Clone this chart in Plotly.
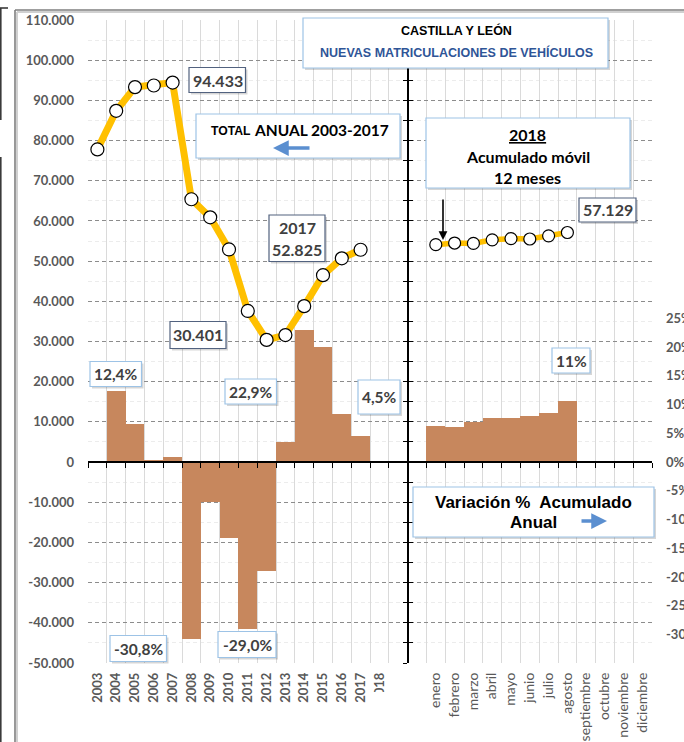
import plotly.graph_objects as go

# ---------------- data ----------------
years = [str(y) for y in range(2003, 2019)]
blanks = [" ", "  "]
months = ["enero", "febrero", "marzo", "abril", "mayo", "junio", "julio",
          "agosto", "septiembre", "octubre", "noviembre", "diciembre"]
categories = years + blanks + months

total_years = years[:15]
total_annual = [77800, 87400, 93300, 93700, 94433, 65400, 60900, 52900,
                37600, 30401, 31600, 38800, 46500, 50700, 52825]

pct_years = years[1:15]
pct_annual = [12.4, 6.7, 0.3, 0.8, -30.8, -7.0, -13.2, -29.0, -19.0,
              3.5, 22.9, 20.1, 8.4, 4.5]

mov_months = months[:8]
total_moving = [54100, 54500, 54400, 55300, 55600, 55500, 56300, 57129]
pct_moving = [6.3, 6.1, 7.0, 7.7, 7.7, 8.0, 8.6, 10.6]

units_ticks = list(range(-50000, 110001, 10000))
pct_ticks = list(range(-35, 26, 5))
units_range = [-50000, 110000]
units_per_pct = 1430.0
pct_range = [units_range[0] / units_per_pct, units_range[1] / units_per_pct]


def fmt_units(v):
    return f"{v:,}".replace(",", ".")


def fmt_pct1(v):
    return f"{v:.1f}".replace(".", ",") + "%"


# ---------------- styles ----------------
BAR = "rgb(199,135,93)"
GOLD = "#FFC000"
GRAY_TXT = "#595959"
DARK_TXT = "#404040"
LIGHT_BORDER = "#9DC3E6"
DARK_BORDER = "#52627F"

L, T, W, H = 88, 20, 564, 643


def px(x):
    return (x - L) / W


def py(y):
    return (T + H - y) / H


shapes = []
annotations = []


def box(x0, y0, x1, y1, border):
    shapes.append(dict(type="rect", xref="paper", yref="paper",
                       x0=px(x0 + 2), x1=px(x1 + 2), y0=py(y1 + 2), y1=py(y0 + 2),
                       fillcolor="rgba(0,0,0,0.16)", line=dict(width=0), layer="above"))
    shapes.append(dict(type="rect", xref="paper", yref="paper",
                       x0=px(x0), x1=px(x1), y0=py(y1), y1=py(y0),
                       fillcolor="white", line=dict(color=border, width=1.2), layer="above"))


def text(x, y, t, size, color, family="Lato", bold=True, xanchor="center"):
    annotations.append(dict(xref="paper", yref="paper", x=px(x), y=py(y),
                            xanchor=xanchor, yanchor="middle", showarrow=False,
                            text=(f"<b>{t}</b>" if bold else t),
                            font=dict(family=family, size=size, color=color)))


def line(x0, y0, x1, y1, color, width):
    shapes.append(dict(type="line", xref="paper", yref="paper",
                       x0=px(x0), x1=px(x1), y0=py(y0), y1=py(y1),
                       line=dict(color=color, width=width), layer="above"))


# frame
line(17, 12, 700, 12, "#D0D0D0", 2)
line(17, 12, 17, 760, "#D0D0D0", 2)
line(15, 10, 700, 10, "#7F7F7F", 1.6)
line(15, 10, 15, 760, "#7F7F7F", 1.6)
line(0.8, 8, 0.8, 120, "#3A3A3A", 1.6)
line(0, 8, 8, 8, "#3A3A3A", 1.6)
line(0.8, 157, 0.8, 760, "#3A3A3A", 1.6)
# part of 2018 tick label hidden
shapes.append(dict(type="rect", xref="paper", yref="paper",
                   x0=px(371), x1=px(390), y0=py(712), y1=py(692),
                   fillcolor="white", line=dict(width=0), layer="above"))

# boxes
box(303, 18, 608, 68, LIGHT_BORDER)
text(456, 30.7, "CASTILLA Y LEÓN", 12.5, "black", "Liberation Sans")
text(456, 52.3, "NUEVAS MATRICULACIONES DE VEHÍCULOS", 12.5, "#2F5597", "Liberation Sans")

box(189, 67.5, 245.5, 92.5, DARK_BORDER)
text(217.5, 80, fmt_units(total_annual[4]), 16, DARK_TXT)

box(196, 114, 400, 158, LIGHT_BORDER)
text(230.5, 131, "TOTAL", 12.2, "black", "Liberation Sans")
text(321.5, 130, "ANUAL " + total_years[0] + "-" + total_years[-1], 15.5, "black")

box(426, 118, 630, 188, LIGHT_BORDER)
text(527.5, 135, '<span style="text-decoration:underline">' + years[-1] + "</span>", 16, "black")
text(527.5, 156, "Acumulado móvil", 16, "black")
text(527.5, 177, "12 meses", 16, "black")

box(579, 198, 636, 222, DARK_BORDER)
text(607.5, 210, fmt_units(total_moving[-1]), 16, DARK_TXT)

box(269, 215, 325, 261.5, DARK_BORDER)
text(297, 227, total_years[-1], 16, DARK_TXT)
text(297, 249.5, fmt_units(total_annual[-1]), 16, DARK_TXT)

box(170, 321.5, 226, 348.5, DARK_BORDER)
text(198, 335, fmt_units(total_annual[9]), 16, DARK_TXT)

box(90, 361.5, 141.5, 386.5, LIGHT_BORDER)
text(116, 374, fmt_pct1(pct_annual[0]), 15.5, DARK_TXT)

box(225, 379, 276.5, 404, LIGHT_BORDER)
text(251, 391.5, fmt_pct1(pct_annual[10]), 15.5, DARK_TXT)

box(358, 380, 400, 414, LIGHT_BORDER)
text(379, 397, fmt_pct1(pct_annual[-1]), 15.5, DARK_TXT)

box(552, 348, 590, 373, LIGHT_BORDER)
text(571, 360.5, f"{round(pct_moving[-1])}%", 15.5, DARK_TXT)

box(110, 635.5, 166.5, 661.5, LIGHT_BORDER)
text(138.5, 648.5, fmt_pct1(pct_annual[4]), 15.5, DARK_TXT)

box(218, 631.5, 276, 657.5, LIGHT_BORDER)
text(247, 644.5, fmt_pct1(pct_annual[7]), 15.5, DARK_TXT)

box(413, 487, 654, 537, LIGHT_BORDER)
text(533.5, 502.7, "Variación %  Acumulado", 17, "black", "Liberation Sans")
text(533.5, 522.7, "Anual", 17, "black", "Liberation Sans")

# arrows
annotations.append(dict(xref="paper", yref="paper", x=px(273), y=py(148), ax=38, ay=0,
                        text="", showarrow=True, arrowhead=2, arrowsize=0.9,
                        arrowwidth=3.5, arrowcolor="#5B8FD0"))
annotations.append(dict(xref="paper", yref="paper", x=px(607), y=py(521), ax=-27, ay=0,
                        text="", showarrow=True, arrowhead=2, arrowsize=0.9,
                        arrowwidth=3.5, arrowcolor="#5B8FD0"))
annotations.append(dict(xref="paper", yref="paper", x=px(443), y=py(240), ax=0, ay=-42,
                        text="", showarrow=True, arrowhead=2, arrowsize=1.1,
                        arrowwidth=1.6, arrowcolor="black"))

# tick texts
xticktext = ([f"<b>{y}</b>" for y in years] + ["", ""]
             + [f'<span style="font-size:14px">{m}</span>' for m in months])

fig = go.Figure()

# bars (percent, base axis y on right)
fig.add_trace(go.Bar(x=pct_years, y=pct_annual, marker=dict(color=BAR, line=dict(width=0)),
                     xaxis="x", yaxis="y", hoverinfo="skip"))
fig.add_trace(go.Bar(x=mov_months, y=pct_moving, marker=dict(color=BAR, line=dict(width=0)),
                     xaxis="x", yaxis="y", hoverinfo="skip"))

# lines (units, overlay axis y2 on left)
fig.add_trace(go.Scatter(x=total_years, y=total_annual, mode="lines+markers",
                         line=dict(color=GOLD, width=7),
                         marker=dict(size=13, color="white", line=dict(color="black", width=1.2)),
                         xaxis="x", yaxis="y2", hoverinfo="skip"))
fig.add_trace(go.Scatter(x=mov_months, y=total_moving, mode="lines+markers",
                         line=dict(color=GOLD, width=5.5),
                         marker=dict(size=12, color="white", line=dict(color="black", width=1.2)),
                         xaxis="x", yaxis="y2", hoverinfo="skip"))

# invisible helper traces so the decorative axes are drawn
fig.add_trace(go.Scatter(x=[categories[0]], y=[None], xaxis="x2", yaxis="y", hoverinfo="skip"))
fig.add_trace(go.Scatter(x=[categories[0]], y=[None], xaxis="x", yaxis="y3", hoverinfo="skip"))
fig.add_trace(go.Scatter(x=[categories[0]], y=[None], xaxis="x", yaxis="y4", hoverinfo="skip"))

cat_axis = dict(type="category", categoryorder="array", categoryarray=categories,
                range=[-0.5, len(categories) - 0.5], automargin=False)

fig.update_layout(
    width=684, height=742,
    margin=dict(l=L, r=684 - L - W, t=T, b=742 - T - H, autoexpand=False),
    paper_bgcolor="white", plot_bgcolor="white",
    showlegend=False, barmode="overlay", bargap=0,
    font=dict(family="Lato", color=GRAY_TXT),
    xaxis=dict(**cat_axis, tickmode="array", tickvals=categories, ticktext=xticktext,
               tickangle=-90, ticks="", tickson="boundaries", showgrid=True,
               gridcolor="#DADADA", gridwidth=1, showline=False, zeroline=False,
               tickfont=dict(family="Lato", size=13, color=GRAY_TXT),
               ticklabelstandoff=6),
    xaxis2=dict(**cat_axis, overlaying="x", anchor="free",
                position=(0 - units_range[0]) / (units_range[1] - units_range[0]),
                showline=True, linecolor="black", linewidth=2.2,
                ticks="outside", tickson="boundaries", ticklen=5, tickcolor="black",
                tickwidth=1, showticklabels=False, showgrid=False, zeroline=False),
    yaxis=dict(range=pct_range, side="right", tickmode="array", tickvals=pct_ticks,
               ticktext=[f"<b>{v}%</b>" for v in pct_ticks], ticks="", showgrid=False,
               zeroline=False, showline=False, automargin=False,
               tickfont=dict(family="Lato", size=13, color=GRAY_TXT),
               ticklabelstandoff=13),
    yaxis2=dict(range=units_range, overlaying="y", side="left", tickmode="array",
                tickvals=units_ticks, ticktext=[f"<b>{fmt_units(v)}</b>" for v in units_ticks],
                ticks="", showgrid=True, gridcolor="#8C8C8C", gridwidth=1, griddash="4px,3px",
                minor=dict(dtick=5000, tick0=0, showgrid=True, gridcolor="#ECECEC", gridwidth=1),
                zeroline=False, showline=False, automargin=False,
                tickfont=dict(family="Lato", size=13, color=GRAY_TXT),
                ticklabelstandoff=13),
    yaxis3=dict(range=units_range, overlaying="y", anchor="free", position=17 / 30,
                side="left", showline=True, linecolor="black", linewidth=1.5,
                ticks="outside", ticklen=4, tickcolor="black", tickwidth=1.2, dtick=5000, tick0=0,
                showticklabels=False, showgrid=False, zeroline=False, automargin=False),
    yaxis4=dict(range=units_range, overlaying="y", anchor="free", position=17 / 30,
                side="left", showline=False,
                ticks="inside", ticklen=4, tickcolor="black", tickwidth=1.2, dtick=5000, tick0=0,
                showticklabels=False, showgrid=False, zeroline=False, automargin=False),
    shapes=shapes,
    annotations=annotations,
)

fig.write_html("out.html", config={"displayModeBar": False},
               post_script="document.body.style.margin='0px';document.body.style.overflow='hidden';")
